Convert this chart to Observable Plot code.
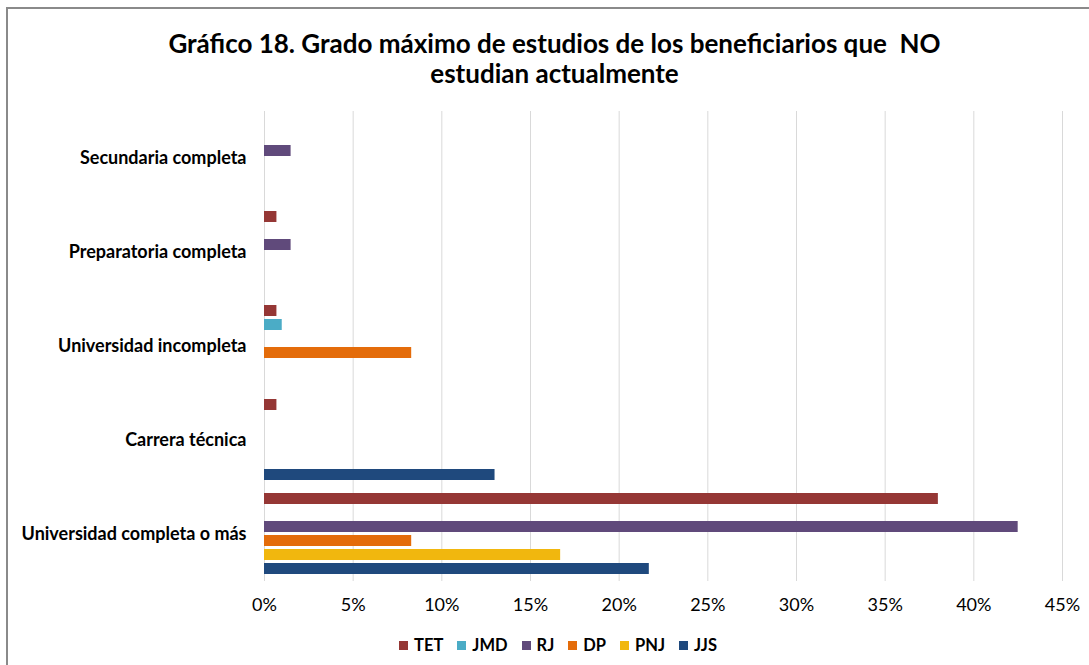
<!DOCTYPE html>
<html>
<head>
<meta charset="utf-8">
<script src="https://cdn.jsdelivr.net/npm/d3@7"></script>
<script src="https://cdn.jsdelivr.net/npm/@observablehq/plot@0.6"></script>
<style>
  html, body { margin: 0; padding: 0; background: #fff; }
  body { width: 1089px; height: 665px; overflow: hidden; position: relative; font-family: Lato, "Open Sans", sans-serif; }
  #frame { position: absolute; left: 6px; top: 7px; right: -5px; bottom: -5px; border-left: 2px solid #8a8a8a; border-top: 2px solid #8a8a8a; }
  #title { position: absolute; left: 10px; top: 28px; width: 1089px; text-align: center; font-weight: bold; font-size: 26px; line-height: 30px; color: #000; }
  #chart { position: absolute; left: 0; top: 100px; }
  #legend { position: absolute; top: 635px; left: 399px; display: flex; font-weight: bold; font-size: 16.5px; line-height: 20px; color: #000; }
  #legend .item { display: flex; align-items: center; margin-right: 14px; }
  #legend .sw { width: 9px; height: 9px; margin-right: 6px; }
</style>
</head>
<body>
<div id="frame"></div>
<div id="title">Gráfico 18. Grado máximo de estudios de los beneficiarios que&nbsp; NO<br>estudian actualmente</div>
<div id="chart"></div>
<div id="legend"></div>
<script>
const categories = ["Secundaria completa", "Preparatoria completa", "Universidad incompleta", "Carrera técnica", "Universidad completa o más"];
const series = ["TET", "JMD", "RJ", "DP", "PNJ", "JJS"];
const colors = ["#953735", "#4BACC6", "#604A7B", "#E46C0A", "#F1B70E", "#1F497D"];
const TET = [0, 0.7, 0.7, 0.7, 38.0];
const JMD = [0, 0, 1.0, 0, 0];
const RJ  = [1.5, 1.5, 0, 0, 42.5];
const DP  = [0, 0, 8.3, 0, 8.3];
const PNJ = [0, 0, 0, 0, 16.7];
const JJS = [0, 0, 0, 13.0, 21.7];
const xTicks = [0, 5, 10, 15, 20, 25, 30, 35, 40, 45];

const valuesBySeries = {TET, JMD, RJ, DP, PNJ, JJS};
const data = series.flatMap(s => categories.map((c, i) => ({series: s, category: c, value: valuesBySeries[s][i]})))
  .filter(d => d.value > 0);

const chart = Plot.plot({
  width: 1089,
  height: 525,
  marginTop: 10,
  marginBottom: 44,
  marginLeft: 264,
  marginRight: 27,
  style: {fontFamily: "Lato, 'Open Sans', sans-serif", fontSize: "18px", color: "#000", background: "transparent"},
  x: {domain: [0, 45], ticks: xTicks, tickFormat: d => d + "%", label: null, tickSize: 0, tickPadding: 17},
  y: {domain: series, axis: null, paddingInner: 0.19, paddingOuter: 0.277},
  fy: {domain: categories, axis: null, padding: 0, label: null},
  color: {domain: series, range: colors},
  marks: [
    Plot.ruleX(xTicks, {x: d => d, stroke: "#d9d9d9", strokeWidth: 1}),
    Plot.barX(data, {x: "value", y: "series", fy: "category", fill: "series"}),
    Plot.text(categories, {fy: d => d, text: d => d, frameAnchor: "left", textAnchor: "end", dx: -18, fontWeight: "bold", fontSize: 18, fill: "#000"})
  ]
});
document.getElementById("chart").appendChild(chart);

const legend = document.getElementById("legend");
series.forEach((s, i) => {
  const item = document.createElement("div");
  item.className = "item";
  const sw = document.createElement("span");
  sw.className = "sw";
  sw.style.background = colors[i];
  const t = document.createElement("span");
  t.textContent = s;
  item.appendChild(sw);
  item.appendChild(t);
  legend.appendChild(item);
});
</script>
</body>
</html>
